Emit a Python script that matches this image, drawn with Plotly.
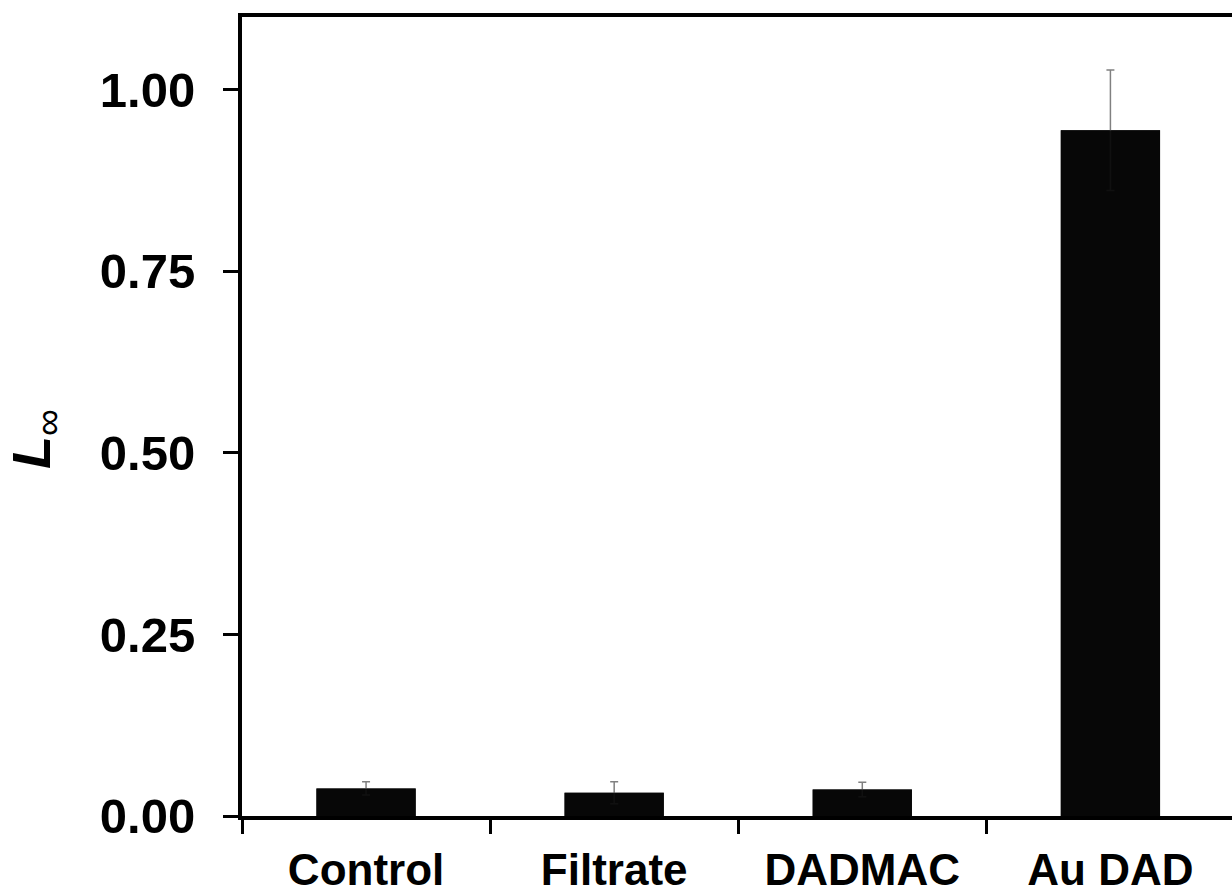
import plotly.graph_objects as go

# Samples and their mean L-infinity values with standard deviations
categories = ["Control", "Filtrate", "DADMAC", "Au DAD"]
l_inf = [0.038, 0.032, 0.0365, 0.944]
l_inf_sd = [0.009, 0.015, 0.010, 0.083]
y_ticks = [0.0, 0.25, 0.5, 0.75, 1.0]

W, H = 1232, 894
M_L, M_R, M_T, M_B = 242, 0, 17, 74

fig = go.Figure()
# Bars with their error bars
fig.add_trace(go.Bar(
    x=categories,
    y=l_inf,
    width=0.4,
    marker=dict(color="#080808", line=dict(width=0)),
    error_y=dict(type="data", array=l_inf_sd, visible=True,
                 color="#808080", thickness=1.5, width=4),
    hoverinfo="skip",
))
# Same bars again on top, so the lower half of each error bar only
# shows faintly through the fill
fig.add_trace(go.Bar(
    x=categories,
    y=l_inf,
    width=0.4,
    marker=dict(color="#080808", line=dict(width=0)),
    opacity=0.93,
))

font_family = "Liberation Sans, Arial, sans-serif"

fig.update_layout(
    width=W, height=H,
    barmode="overlay",
    margin=dict(l=M_L, r=M_R, t=M_T, b=M_B, pad=0),
    paper_bgcolor="white", plot_bgcolor="white",
    showlegend=False,
    font=dict(family=font_family, color="black"),
    xaxis=dict(
        range=[-0.5, 3.49],
        showgrid=False, zeroline=False,
        showline=True, linecolor="black", linewidth=4, mirror=True,
        ticks="outside", tickson="boundaries", ticklen=14, tickwidth=3,
        tickcolor="black",
        tickfont=dict(size=44, family=font_family, weight="bold"),
        ticklabelstandoff=12,
    ),
    yaxis=dict(
        range=[0, 1.1],
        tickvals=y_ticks, tickformat=".2f",
        showgrid=False, zeroline=False,
        showline=True, linecolor="black", linewidth=4, mirror=False,
        ticks="outside", ticklen=15, tickwidth=3, tickcolor="black",
        tickfont=dict(size=49, family=font_family, weight="bold"),
        ticklabelstandoff=18,
    ),
)

# Rotated y-axis title: bold italic L with an infinity subscript
plot_w = W - M_L - M_R
plot_h = H - M_T - M_B
fig.add_annotation(
    text="<b><i>L</i></b><sub>∞</sub>",
    textangle=-90,
    xref="paper", yref="paper",
    x=(35 - M_L) / plot_w, y=(H - M_B - 441) / plot_h,
    xanchor="center", yanchor="middle",
    showarrow=False,
    font=dict(size=54, family=font_family, color="black"),
)

fig.write_html("out.html")
